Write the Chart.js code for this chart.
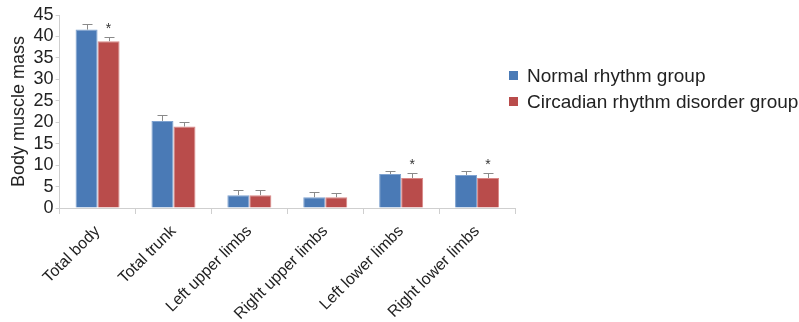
<!DOCTYPE html>
<html>
<head>
<meta charset="utf-8">
<script src="https://cdn.jsdelivr.net/npm/chart.js@4.4.0/dist/chart.umd.min.js"></script>
<style>
  html, body { margin: 0; padding: 0; background: #fff; }
  #wrap { position: relative; width: 799px; height: 322px; }
  #legend { position: absolute; left: 509px; top: 63px; font-family: 'Liberation Sans', Arial, sans-serif; font-size: 19px; color: #222; }
  #legend div { height: 26px; line-height: 26px; white-space: nowrap; }
  #legend span { display: inline-block; width: 9px; height: 9px; margin-right: 9px; vertical-align: 2px; }
</style>
</head>
<body>
<div id="wrap">
  <canvas id="chart" width="799" height="322"></canvas>
  <div id="legend"></div>
</div>
<script>
const categories = ['Total body', 'Total trunk', 'Left upper limbs', 'Right upper limbs', 'Left lower limbs', 'Right lower limbs'];
const normalRhythm = [41.6, 20.3, 3.0, 2.5, 7.9, 7.7];
const normalErr = [1.3, 1.3, 1.1, 1.2, 0.8, 1.0];
const disorderRhythm = [38.9, 19.0, 3.0, 2.5, 7.0, 7.0];
const disorderErr = [0.9, 1.1, 1.2, 0.9, 1.1, 1.1];
const significant = [true, false, false, false, true, true];
const yTicks = [0, 5, 10, 15, 20, 25, 30, 35, 40, 45];

const seriesNames = ['Normal rhythm group', 'Circadian rhythm disorder group'];
const colors = ['#4a7ab6', '#b94c4b'];
const FONT = "'Liberation Sans', Arial, sans-serif";

// legend as plain text next to the plot
const legendEl = document.getElementById('legend');
seriesNames.forEach((name, i) => {
  const row = document.createElement('div');
  const box = document.createElement('span');
  box.style.background = colors[i];
  row.appendChild(box);
  row.appendChild(document.createTextNode(name));
  legendEl.appendChild(row);
});

const errorBars = {
  id: 'errorBars',
  afterDatasetsDraw(chart) {
    const { ctx } = chart;
    const y = chart.scales.y;
    ctx.save();
    ctx.strokeStyle = '#8a8a8a';
    ctx.lineWidth = 1;
    chart.data.datasets.forEach((ds, di) => {
      const meta = chart.getDatasetMeta(di);
      meta.data.forEach((bar, i) => {
        const top = y.getPixelForValue(ds.data[i] + ds.err[i]);
        const x = Math.round(bar.x) + 0.5;
        ctx.beginPath();
        ctx.moveTo(x, bar.y);
        ctx.lineTo(x, Math.round(top) + 0.5);
        ctx.moveTo(x - 5, Math.round(top) + 0.5);
        ctx.lineTo(x + 5, Math.round(top) + 0.5);
        ctx.stroke();
        if (di === 1 && significant[i]) {
          ctx.fillStyle = '#333';
          ctx.font = '14px ' + FONT;
          ctx.textAlign = 'center';
          ctx.textBaseline = 'middle';
          ctx.fillText('*', bar.x, top - 8);
        }
      });
    });
    ctx.restore();
  }
};

new Chart(document.getElementById('chart'), {
  type: 'bar',
  data: {
    labels: categories,
    datasets: [
      { label: seriesNames[0], data: normalRhythm, err: normalErr, backgroundColor: colors[0], borderColor: '#7ea2d0', borderWidth: 1 },
      { label: seriesNames[1], data: disorderRhythm, err: disorderErr, backgroundColor: colors[1], borderColor: '#d98887', borderWidth: 1 }
    ]
  },
  options: {
    responsive: false,
    animation: false,
    layout: { padding: { top: 15, right: 284, left: 8 } },
    datasets: { bar: { categoryPercentage: 0.58, barPercentage: 1 } },
    plugins: { legend: { display: false }, tooltip: { enabled: false } },
    scales: {
      x: {
        grid: { display: true, drawOnChartArea: false, offset: true, color: '#cfcfcf', tickLength: 6 },
        border: { color: '#cfcfcf' },
        ticks: { color: '#222', font: { family: FONT, size: 16 }, minRotation: 45, maxRotation: 45, padding: 8, autoSkip: false },
        afterFit(axis) { axis.height = 114; }
      },
      y: {
        min: 0, max: 45,
        afterBuildTicks(axis) { axis.ticks = yTicks.map(v => ({ value: v })); },
        grid: { display: true, drawOnChartArea: false, color: '#cfcfcf', tickLength: 4 },
        border: { color: '#cfcfcf' },
        ticks: { color: '#222', font: { family: FONT, size: 18 }, padding: 2, autoSkip: false },
        title: { display: true, text: 'Body muscle mass', color: '#222', font: { family: FONT, size: 18 }, padding: { top: 0, bottom: 2 } }
      }
    }
  },
  plugins: [errorBars]
});
</script>
</body>
</html>
